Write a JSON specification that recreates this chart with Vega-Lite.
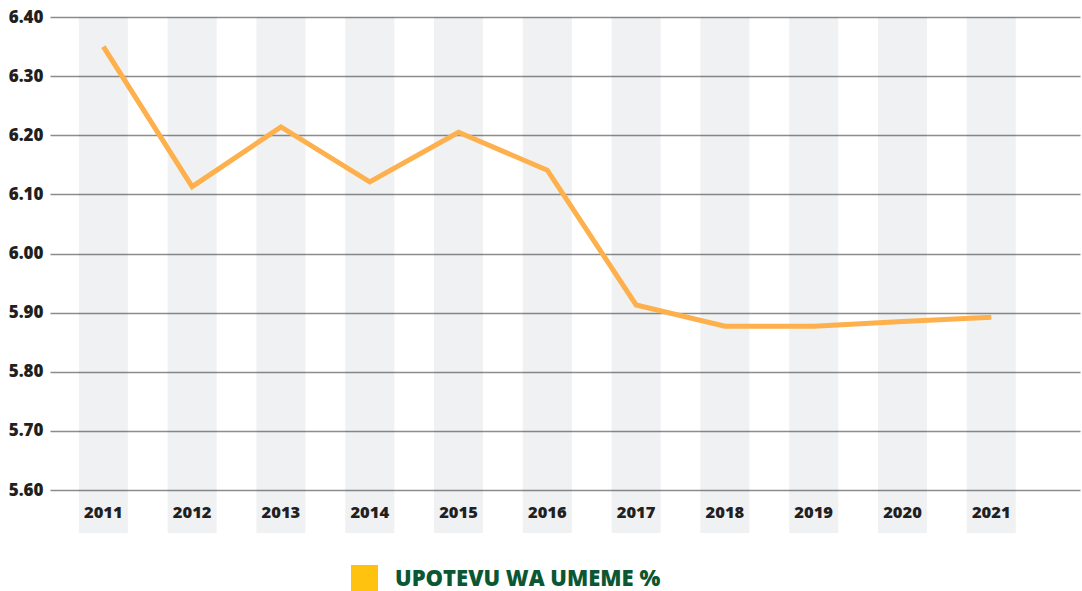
{
  "$schema": "https://vega.github.io/schema/vega-lite/v6.json",
  "width": 1030,
  "height": 516,
  "autosize": {"type": "none"},
  "padding": {"left": 50, "top": 17, "right": 2, "bottom": 58},
  "background": "white",
  "config": {"view": {"stroke": null}},
  "data": {
    "values": [
      {"year": "2011", "value": 6.35, "series": "UPOTEVU WA UMEME %"},
      {"year": "2012", "value": 6.113, "series": "UPOTEVU WA UMEME %"},
      {"year": "2013", "value": 6.214, "series": "UPOTEVU WA UMEME %"},
      {"year": "2014", "value": 6.121, "series": "UPOTEVU WA UMEME %"},
      {"year": "2015", "value": 6.205, "series": "UPOTEVU WA UMEME %"},
      {"year": "2016", "value": 6.141, "series": "UPOTEVU WA UMEME %"},
      {"year": "2017", "value": 5.913, "series": "UPOTEVU WA UMEME %"},
      {"year": "2018", "value": 5.877, "series": "UPOTEVU WA UMEME %"},
      {"year": "2019", "value": 5.877, "series": "UPOTEVU WA UMEME %"},
      {"year": "2020", "value": 5.885, "series": "UPOTEVU WA UMEME %"},
      {"year": "2021", "value": 5.892, "series": "UPOTEVU WA UMEME %"}
    ]
  },
  "encoding": {
    "x": {
      "field": "year",
      "type": "nominal",
      "sort": null,
      "scale": {"type": "band", "paddingInner": 0.448, "paddingOuter": 0.524, "align": 0.31},
      "axis": {
        "title": null,
        "orient": "bottom",
        "offset": -21,
        "domain": false,
        "ticks": false,
        "grid": false,
        "labelAngle": 0,
        "labelPadding": 0,
        "labelBaseline": "middle",
        "labelFont": "Open Sans",
        "labelFontSize": 16.5,
        "labelFontWeight": 800,
        "labelColor": "#231f20"
      }
    }
  },
  "layer": [
    {
      "mark": {"type": "bar", "color": "#1e2a4a", "opacity": 0.065},
      "encoding": {}
    },
    {
      "mark": {"type": "line", "strokeWidth": 5, "strokeCap": "butt", "strokeJoin": "miter"},
      "encoding": {
        "y": {
          "field": "value",
          "type": "quantitative",
          "scale": {"domain": [5.5273, 6.4], "zero": false, "nice": false},
          "axis": {
            "title": null,
            "values": [5.6, 5.7, 5.8, 5.9, 6.0, 6.1, 6.2, 6.3, 6.4],
            "format": ".2f",
            "domain": false,
            "ticks": false,
            "grid": true,
            "gridColor": "#8c8c8c",
            "gridWidth": 1.3,
            "labelPadding": 7,
            "labelFont": "Open Sans",
            "labelFontSize": 17,
            "labelFontWeight": 800,
            "labelColor": "#231f20"
          }
        },
        "color": {
          "field": "series",
          "type": "nominal",
          "scale": {"range": ["#fdb04b"]},
          "legend": {
            "title": null,
            "orient": "none",
            "legendX": 301,
            "legendY": 548,
            "padding": 0,
            "symbolType": "square",
            "symbolSize": 729,
            "symbolStrokeWidth": 0,
            "labelOffset": 17,
            "labelFont": "Open Sans",
            "labelFontSize": 22,
            "labelFontWeight": 800,
            "labelColor": "#0b5633",
            "labelLimit": 500,
            "encode": {
              "symbols": {"update": {"fill": {"value": "#ffc20e"}, "stroke": {"value": "transparent"}, "opacity": {"value": 1}}}
            }
          }
        }
      }
    }
  ]
}
